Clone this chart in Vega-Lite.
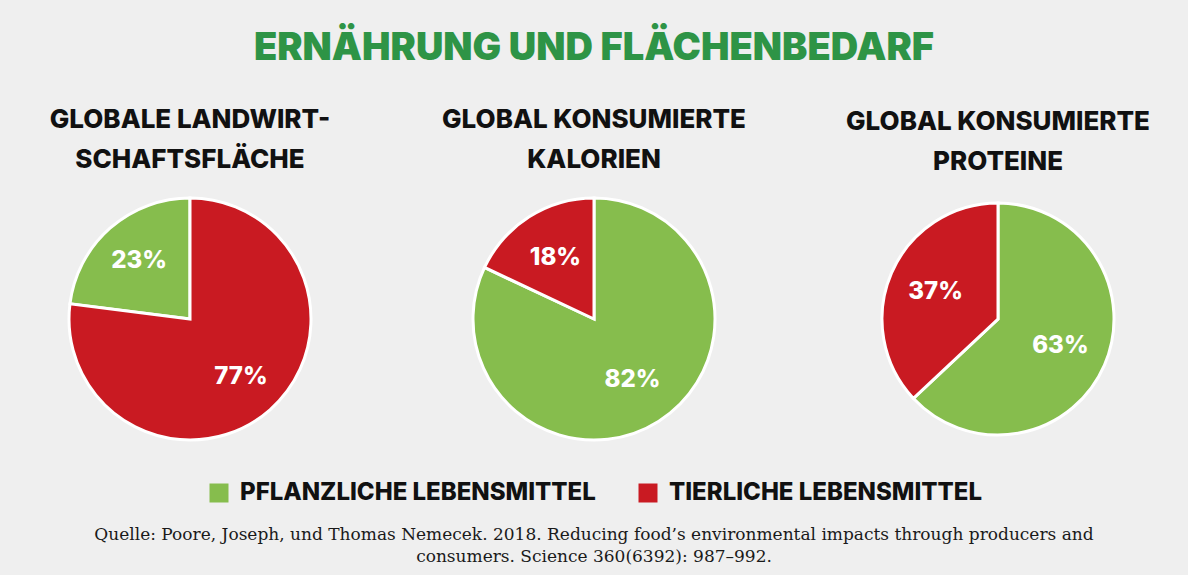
{
  "$schema": "https://vega.github.io/schema/vega-lite/v6.json",
  "background": "#efefef",
  "padding": {"left": 20, "top": 30, "right": 20, "bottom": 10},
  "title": {
    "text": "ERNÄHRUNG UND FLÄCHENBEDARF",
    "font": "Inter",
    "fontSize": 38,
    "fontWeight": 900,
    "color": "#2e9446",
    "anchor": "middle",
    "offset": 39
  },
  "datasets": {
    "anteile": [
      {"diagramm": "flaeche", "kategorie": "PFLANZLICHE LEBENSMITTEL", "anteil": 23},
      {"diagramm": "flaeche", "kategorie": "TIERLICHE LEBENSMITTEL", "anteil": 77},
      {"diagramm": "kalorien", "kategorie": "PFLANZLICHE LEBENSMITTEL", "anteil": 82},
      {"diagramm": "kalorien", "kategorie": "TIERLICHE LEBENSMITTEL", "anteil": 18},
      {"diagramm": "proteine", "kategorie": "PFLANZLICHE LEBENSMITTEL", "anteil": 63},
      {"diagramm": "proteine", "kategorie": "TIERLICHE LEBENSMITTEL", "anteil": 37}
    ],
    "quelle": [
      {"text": "Quelle: Poore, Joseph, und Thomas Nemecek. 2018. Reducing food’s environmental impacts through producers and\nconsumers. Science 360(6392): 987–992."}
    ]
  },
  "vconcat": [
    {
      "spacing": 64,
      "hconcat": [
        {
          "title": {"text": ["GLOBALE LANDWIRT-", "SCHAFTSFLÄCHE"]},
          "width": 340,
          "height": 250,
          "data": {"name": "anteile"},
          "transform": [
            {"filter": "datum.diagramm === 'flaeche'"},
            {"calculate": "datum.anteil + '%'", "as": "beschriftung"}
          ],
          "encoding": {
            "theta": {"field": "anteil", "type": "quantitative", "stack": true},
            "order": {"field": "anteil", "sort": "descending"},
            "color": {"field": "kategorie", "type": "nominal"}
          },
          "layer": [
            {"mark": {"type": "arc", "outerRadius": 121, "stroke": "white", "strokeWidth": 3}},
            {
              "mark": {"type": "text", "radius": 77, "font": "Inter", "fontWeight": 800, "fontSize": 24},
              "encoding": {"text": {"field": "beschriftung"}, "color": {"value": "white"}}
            }
          ]
        },
        {
          "title": {"text": ["GLOBAL KONSUMIERTE", "KALORIEN"]},
          "width": 340,
          "height": 250,
          "data": {"name": "anteile"},
          "transform": [
            {"filter": "datum.diagramm === 'kalorien'"},
            {"calculate": "datum.anteil + '%'", "as": "beschriftung"}
          ],
          "encoding": {
            "theta": {"field": "anteil", "type": "quantitative", "stack": true},
            "order": {"field": "anteil", "sort": "descending"},
            "color": {"field": "kategorie", "type": "nominal"}
          },
          "layer": [
            {"mark": {"type": "arc", "outerRadius": 121, "stroke": "white", "strokeWidth": 3}},
            {
              "mark": {"type": "text", "radius": 72, "font": "Inter", "fontWeight": 800, "fontSize": 24},
              "encoding": {"text": {"field": "beschriftung"}, "color": {"value": "white"}}
            }
          ]
        },
        {
          "title": {"text": ["GLOBAL KONSUMIERTE", "PROTEINE"]},
          "width": 340,
          "height": 250,
          "data": {"name": "anteile"},
          "transform": [
            {"filter": "datum.diagramm === 'proteine'"},
            {"calculate": "datum.anteil + '%'", "as": "beschriftung"}
          ],
          "encoding": {
            "theta": {"field": "anteil", "type": "quantitative", "stack": true},
            "order": {"field": "anteil", "sort": "descending"},
            "color": {"field": "kategorie", "type": "nominal"}
          },
          "layer": [
            {"mark": {"type": "arc", "outerRadius": 116, "stroke": "white", "strokeWidth": 3}},
            {
              "mark": {"type": "text", "radius": 68, "font": "Inter", "fontWeight": 800, "fontSize": 24},
              "encoding": {"text": {"field": "beschriftung"}, "color": {"value": "white"}}
            }
          ]
        }
      ]
    },
    {
      "width": 1148,
      "height": 44,
      "data": {"name": "quelle"},
      "mark": {
        "type": "text",
        "font": "DejaVu Serif",
        "fontSize": 17,
        "lineHeight": 22,
        "lineBreak": "\n",
        "align": "center",
        "baseline": "middle",
        "color": "#1a1a1a"
      },
      "encoding": {"text": {"field": "text"}}
    }
  ],
  "spacing": 8,
  "resolve": {"scale": {"color": "independent"}, "legend": {"color": "independent"}},
  "config": {
    "view": {"stroke": null},
    "range": {"category": ["#86bd4d", "#c91a22"]},
    "title": {
      "font": "Inter",
      "fontSize": 26,
      "fontWeight": 800,
      "color": "#111111",
      "lineHeight": 40,
      "offset": 19
    },
    "legend": {
      "orient": "bottom",
      "direction": "horizontal",
      "title": null,
      "symbolType": "square",
      "symbolSize": 361,
      "symbolStrokeWidth": 0,
      "symbolOpacity": 1,
      "labelFont": "Inter",
      "labelFontWeight": 800,
      "labelFontSize": 24,
      "labelColor": "#111111",
      "labelLimit": 500,
      "labelOffset": 9,
      "columnPadding": 40,
      "offset": 35,
      "layout": {"bottom": {"anchor": "middle"}}
    }
  }
}
